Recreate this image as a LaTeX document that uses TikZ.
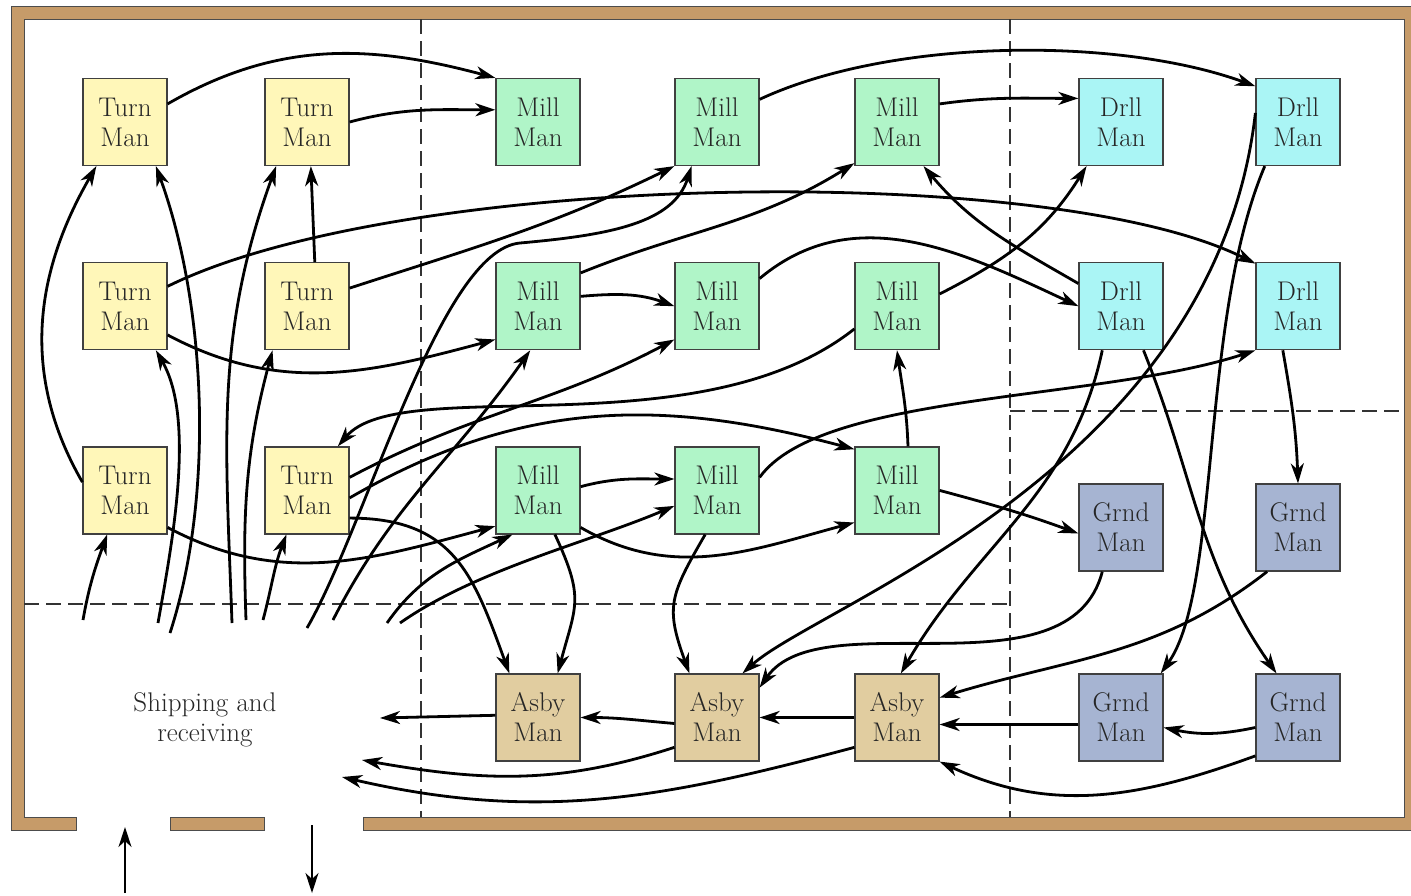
\documentclass[tikz,border=0pt]{standalone}
\usepackage{tikz}
\usetikzlibrary{positioning,arrows.meta}

\definecolor{turnfill}{HTML}{FFF7B9}
\definecolor{millfill}{HTML}{B0F5C8}
\definecolor{drllfill}{HTML}{AAF5F5}
\definecolor{grndfill}{HTML}{A6B4D2}
\definecolor{asbyfill}{HTML}{E1CDA0}
\definecolor{wallfill}{HTML}{C69B69}

\begin{document}
\begin{tikzpicture}[
  x=1pt, y=1pt,
  font=\fontsize{27}{30}\selectfont,
  >={Stealth[length=20pt,width=13pt,inset=6pt]},
  machine/.style={draw=black!75, line width=1.2pt, text=black!85, align=center,
                  minimum width=84pt, minimum height=87pt, inner sep=2pt},
  turnbox/.style={machine, fill=turnfill},
  millbox/.style={machine, fill=millfill},
  drllbox/.style={machine, fill=drllfill},
  grndbox/.style={machine, fill=grndfill},
  asbybox/.style={machine, fill=asbyfill},
  arrow/.style={->, line width=2.8pt},
  door/.style={->, line width=1.3pt},
  zone/.style={draw=black!80, line width=1.2pt, dash pattern=on 15pt off 7pt},
  wall/.style={draw=black!70, line width=1pt, fill=wallfill},
]
\useasboundingbox (0,0) rectangle (1411,-895);

% Walls
\draw[wall] (76,-817) -- (24,-817) -- (24,-19) -- (1404,-19) -- (1404,-817)
  -- (363,-817) -- (363,-830) -- (1420,-830) -- (1420,-6) -- (11,-6)
  -- (11,-830) -- (76,-830) -- cycle;
\draw[wall] (170,-817) rectangle (264,-830);

% Departments
\draw[zone] (421,-19) -- (421,-817);
\draw[zone] (1010,-19) -- (1010,-817);
\draw[zone] (24,-604) -- (1010,-604);
\draw[zone] (1010,-411) -- (1404,-411);

% Turning
\node[turnbox] (t11) at (125,-122) {Turn\\Man};
\node[turnbox] (t21) at (307,-122) {Turn\\Man};
\node[turnbox, below=96pt of t11] (t12) {Turn\\Man};
\node[turnbox, below=96pt of t21] (t22) {Turn\\Man};
\node[turnbox, below=96pt of t12] (t13) {Turn\\Man};
\node[turnbox, below=96pt of t22] (t23) {Turn\\Man};

% Milling
\node[millbox] (m11) at (538,-122) {Mill\\Man};
\node[millbox] (m21) at (717,-122) {Mill\\Man};
\node[millbox] (m31) at (897,-122) {Mill\\Man};
\node[millbox, below=96pt of m11] (m12) {Mill\\Man};
\node[millbox, below=96pt of m21] (m22) {Mill\\Man};
\node[millbox, below=96pt of m31] (m32) {Mill\\Man};
\node[millbox, below=96pt of m12] (m13) {Mill\\Man};
\node[millbox, below=96pt of m22] (m23) {Mill\\Man};
\node[millbox, below=96pt of m32] (m33) {Mill\\Man};

% Drilling
\node[drllbox] (d11) at (1121,-122) {Drll\\Man};
\node[drllbox] (d21) at (1298,-122) {Drll\\Man};
\node[drllbox, below=96pt of d11] (d12) {Drll\\Man};
\node[drllbox, below=96pt of d21] (d22) {Drll\\Man};

% Grinding
\node[grndbox] (g1) at (1121,-527.5) {Grnd\\Man};
\node[grndbox] (g2) at (1298,-527.5) {Grnd\\Man};
\node[grndbox] (g3) at (1121,-717.5) {Grnd\\Man};
\node[grndbox] (g4) at (1298,-717.5) {Grnd\\Man};

% Assembly
\node[asbybox] (a1) at (538,-717.5) {Asby\\Man};
\node[asbybox] (a2) at (717,-717.5) {Asby\\Man};
\node[asbybox] (a3) at (897,-717.5) {Asby\\Man};

% Shipping and receiving
\node[align=center, text=black!85] (ship) at (205,-720) {Shipping and\\receiving};
\coordinate (in1) at (83,-620);
\coordinate (in2) at (158,-623);
\coordinate (in3) at (170,-633);
\coordinate (in4) at (232,-623);
\coordinate (in5) at (246,-620);
\coordinate (in6) at (263,-620);
\coordinate (in7) at (307,-628);
\coordinate (in8) at (333,-620);
\coordinate (in9) at (387,-623);
\coordinate (in10) at (400,-623);
\coordinate (via7) at (520,-243);
\coordinate (out1) at (380,-718);
\coordinate (out2) at (362,-760);
\coordinate (out3) at (342,-777);
\coordinate (recvA) at (125,-893);
\coordinate (recvB) at (125,-827);
\coordinate (sendA) at (312,-825);
\coordinate (sendB) at (312,-893);

% Doors
\draw[door] (recvA) -- (recvB);
\draw[door] (sendA) -- (sendB);

% Receiving flows
\draw[arrow] (in1) to[out=80,in=250] (t13.248);
\draw[arrow] (in2) to[out=80,in=-60,looseness=0.75] (t12.-55);
\draw[arrow] (in3) to[out=72,in=-70,looseness=0.8] (t11.-55);
\draw[arrow] (in4) to[out=92,in=250] (t21.235);
\draw[arrow] (in5) to[out=92,in=255] (t22.232);
\draw[arrow] (in6) to[out=75,in=249] (t23.245);
\draw[arrow] (in7) .. controls +(60,104) and +(-80,-7) .. (via7)
  .. controls +(90,8) and +(-18,-57) .. (m21.240);
\draw[arrow] (in8) to[out=63,in=235] (m12.260);
\draw[arrow] (in9) to[out=55,in=205] (m13.240);
\draw[arrow] (in10) to[out=35,in=203,looseness=0.8] (m23.200);

% Turning flows
\draw[arrow] (t11.23) to[out=30,in=165] (m11.north west);
\draw[arrow] (t21.east) to[out=15,in=180] (m11.164);
\draw[arrow] (t12.25) .. controls +(233,115) and +(-206,103) .. (d22.135);
\draw[arrow] (t12.-34) to[out=-28,in=195] (m12.218);
\draw[arrow] (t22.23) to[out=18,in=206] (m21.south west);
\draw[arrow] (t22.80) -- (t21.-85);
\draw[arrow] (t13.169) to[out=120,in=240] (t11.237);
\draw[arrow] (t13.-41) to[out=-28,in=195] (m13.220);
\draw[arrow] (t23.17) to[out=28,in=208] (m22.218);
\draw[arrow] (t23.-10) to[out=30,in=165] (m33.136);
\draw[arrow] (t23.-33) to[out=0,in=110,looseness=1.2] (a1.123);

% Milling flows
\draw[arrow] (m21.28) to[out=25,in=160,looseness=0.75] (d21.140);
\draw[arrow] (m31.23) to[out=8,in=180] (d11.151);
\draw[arrow] (m12.38) to[out=22,in=212] (m31.224);
\draw[arrow] (m12.13) to[out=5,in=160] (m22.west);
\draw[arrow] (m22.33) to[out=40,in=155] (d12.west);
\draw[arrow] (m32.16) to[out=27,in=238] (d11.232);
\draw[arrow] (m32.208) .. controls +(-155,-123) and +(63,74) .. (t23.55);
\draw[arrow] (m13.5) to[out=15,in=180] (m23.165);
\draw[arrow] (m13.-41) to[out=-30,in=195] (m33.217);
\draw[arrow] (m13.-69) to[out=-65,in=75,looseness=1.3] (a1.66);
\draw[arrow] (m23.17) .. controls +(61,85) and +(-156,-51) .. (d22.south west);
\draw[arrow] (m23.255) to[out=240,in=110,looseness=1.3] (a2.122);
\draw[arrow] (m33.76) to[out=92,in=-82] (m32.south);
\draw[arrow] (m33.east) to[out=-15,in=160] (g1.188);

% Drilling flows
\draw[arrow] (d21.168) .. controls +(-41,-357) and +(78,70) .. (a2.60);
\draw[arrow] (d21.233) .. controls +(-65,-153) and +(60,84) .. (g3.48);
\draw[arrow] (d12.152) to[out=150,in=-50] (m31.-59);
\draw[arrow] (d12.247) to[out=258,in=60] (a3.85);
\draw[arrow] (d12.297) to[out=-68,in=125] (g4.116);
\draw[arrow] (d22.251) to[out=-80,in=92] (g2.north);

% Grinding flows
\draw[arrow] (g1.247) .. controls +(-33,-128) and +(61,88) .. (a2.35);
\draw[arrow] (g2.235) to[out=218,in=17] (a3.25);
\draw[arrow] ([yshift=-7pt]g3.west) -- ([yshift=-7pt]a3.east);
\draw[arrow] ([yshift=-10pt]g4.west) to[out=192,in=-12] ([yshift=-10pt]g3.east);
\draw[arrow] (g4.222) to[out=200,in=-25] (a3.south east);

% Assembly flows
\draw[arrow] (a3) -- (a2);
\draw[arrow] (a2.188) to[out=175,in=0] (a1.east);
\draw[arrow] (a1.177) -- (out1);
\draw[arrow] (a2.215) to[out=198,in=-10] (out2);
\draw[arrow] (a3.215) to[out=195,in=-13] (out3);
\end{tikzpicture}
\end{document}
